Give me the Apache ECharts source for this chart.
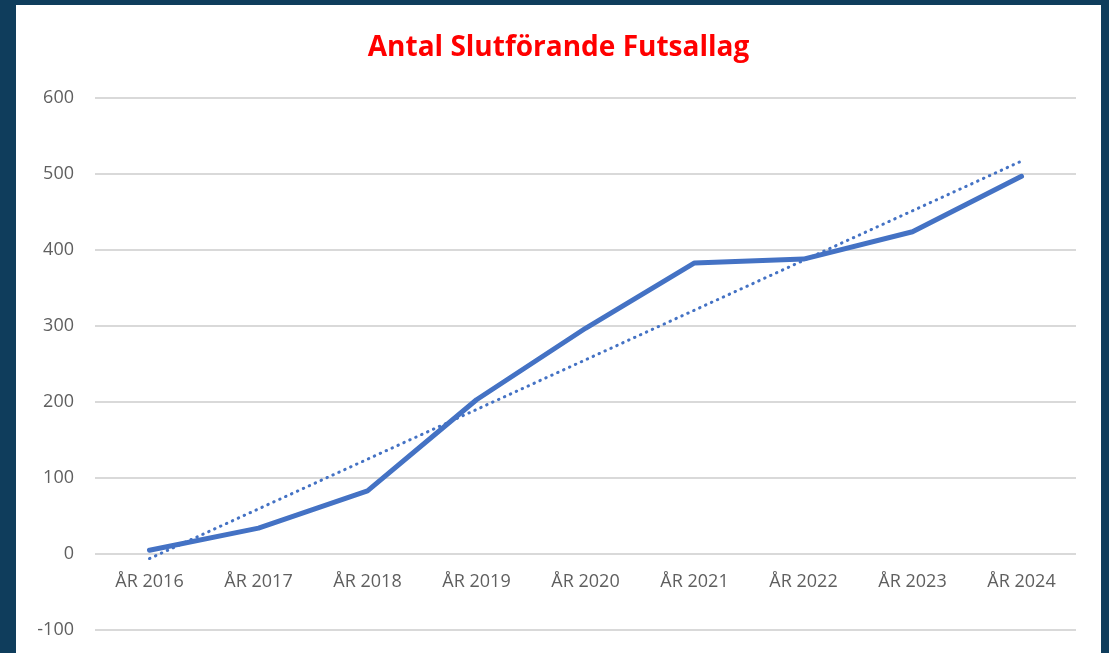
<!DOCTYPE html>
<html>
<head>
<meta charset="utf-8">
<script src="https://cdn.jsdelivr.net/npm/echarts@6/dist/echarts.min.js"></script>
<style>
  html, body { margin: 0; padding: 0; background: #0f3d5c; width: 1109px; height: 653px; overflow: hidden; }
  #chart { position: absolute; left: 16px; top: 5px; width: 1085px; height: 648px; background: #ffffff; }
</style>
</head>
<body>
<div id="chart"></div>
<script>
// categories + values
const years = ['ÅR 2016', 'ÅR 2017', 'ÅR 2018', 'ÅR 2019', 'ÅR 2020', 'ÅR 2021', 'ÅR 2022', 'ÅR 2023', 'ÅR 2024'];
const teams = [5, 34, 83, 203, 297, 383, 388, 424, 497];
// linear trendline, only its two ends
const trendEnds = [-6, 517];

const trend = years.map((y, i) => i === 0 ? trendEnds[0] : (i === years.length - 1 ? trendEnds[1] : null));

const chart = echarts.init(document.getElementById('chart'), null, { renderer: 'canvas' });

const font = '"Open Sans", "Noto Sans", sans-serif';

let option = {
  backgroundColor: '#ffffff',
  animation: false,
  title: {
    text: 'Antal Slutförande Futsallag',
    left: 'center',
    top: 24,
    textStyle: { color: '#ff0000', fontSize: 28, fontWeight: 'bold', fontFamily: font }
  },
  grid: {
    left: 79,
    right: 25,
    top: 93,
    bottom: 23,
    containLabel: false,
    outerBoundsMode: 'none'
  },
  xAxis: {
    type: 'category',
    data: years,
    boundaryGap: true,
    position: 'bottom',
    // labels sit under the 0 line, like excel does (100 units = 76px)
    offset: -76,
    axisLine: { show: false, onZero: false },
    axisTick: { show: false },
    axisLabel: { color: '#5f5f5f', fontSize: 18, margin: 19, fontFamily: font }
  },
  yAxis: {
    type: 'value',
    min: -100,
    max: 600,
    interval: 100,
    axisLine: { show: false },
    axisTick: { show: false },
    splitLine: { lineStyle: { color: '#d9d9d9', width: 2 } },
    axisLabel: { color: '#5f5f5f', fontSize: 18, margin: 21, fontFamily: font }
  },
  series: [
    {
      name: 'Antal',
      type: 'line',
      data: teams,
      symbol: 'none',
      lineStyle: { color: '#4472c4', width: 5, cap: 'round', join: 'round' },
      z: 3
    },
    {
      name: 'Trend',
      type: 'line',
      data: trend,
      connectNulls: true,
      symbol: 'none',
      lineStyle: { color: '#4472c4', width: 3, type: [0.5, 6], cap: 'round' },
      z: 2
    }
  ]
};

chart.setOption(option);
</script>
</body>
</html>
